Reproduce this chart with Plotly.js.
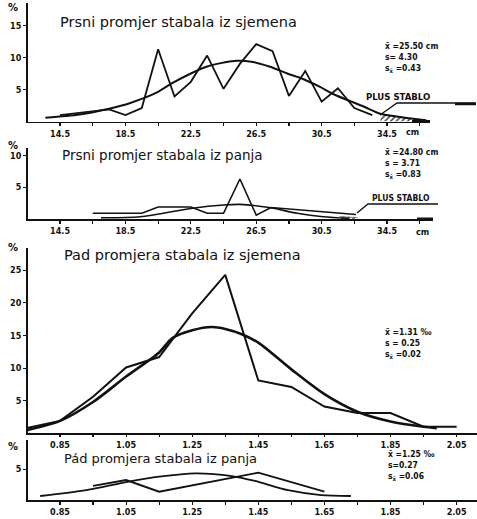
<!DOCTYPE html>
<html><head><meta charset="utf-8">
<script src="https://cdn.plot.ly/plotly-3.0.1.min.js"></script>
<style>html,body{margin:0;padding:0;background:#fff}</style>
</head><body><div id="chart" style="width:477px;height:519px"></div>
<script>
// ---- Panel 1: Prsni promjer stabala iz sjemena (cm, %)
const p1PolyX = [14.5, 17.5, 18.5, 19.5, 20.5, 21.5, 22.5, 23.5, 24.5, 25.5, 26.5, 27.5, 28.5, 29.5, 30.5, 31.5, 32.5, 33.6];
const p1PolyY = [1.0, 1.9, 1.0, 2.1, 11.3, 3.9, 6.2, 10.3, 5.1, 9.0, 12.1, 11.0, 4.0, 7.9, 3.1, 5.2, 2.1, 1.0];
const p1CurveX = [13.6, 15.7, 17.5, 18.8, 20.4, 21.3, 22.5, 23.5, 24.5, 25.3, 26.3, 27.3, 28.4, 29.4, 30.4, 31.2, 33.1, 34.1, 35.6, 36.9];
const p1CurveY = [0.6, 1.1, 2.0, 2.9, 4.5, 5.9, 7.5, 8.6, 9.2, 9.5, 9.3, 8.6, 7.5, 6.6, 5.4, 4.3, 2.3, 1.2, 0.6, 0.2];
const p1PlusX = [34.1, 35.6, 36.9];
const p1PlusY = [1.2, 0.6, 0.2];
const p1Stats = ["x̄ =25.50 cm", "s= 4.30", "s<sub>x̄</sub> =0.43"];

// ---- Panel 2: Prsni promjer stabala iz panja (cm, %)
const p2PolyX = [16.5, 19.5, 20.5, 22.5, 23.5, 24.5, 25.5, 26.5, 27.4, 32.6];
const p2PolyY = [0.9, 0.9, 1.9, 1.9, 0.9, 0.9, 6.3, 0.6, 1.8, 0.7];
const p2CurveX = [17.0, 19.4, 22.6, 24.5, 25.5, 27.3, 29.0, 30.6, 32.2];
const p2CurveY = [0.2, 0.35, 1.7, 2.2, 2.3, 1.8, 0.9, 0.35, 0.1];
const p2PlusX = [31.6, 32.1, 32.7];
const p2PlusY = [0.4, 0.3, 0.2];
const p2Stats = ["x̄ =24.80 cm", "s = 3.71", "s<sub>x̄</sub> =0.83"];

const cmTicks = [14.5, 18.5, 22.5, 26.5, 30.5, 34.5];
const cmTickText = ["14.5", "18.5", "22.5", "26.5", "30.5", "34.5"];

// ---- Panel 3: Pad promjera stabala iz sjemena
const p3PolyX = [0.75, 0.85, 0.95, 1.05, 1.15, 1.25, 1.35, 1.45, 1.55, 1.65, 1.75, 1.85, 1.95, 2.05];
const p3PolyY = [0.8, 1.9, 5.6, 10.1, 11.7, 18.4, 24.3, 8.1, 7.1, 4.1, 3.1, 3.1, 1.0, 1.0];
const p3CurveX = [0.75, 0.85, 0.95, 1.05, 1.15, 1.19, 1.25, 1.31, 1.35, 1.40, 1.45, 1.55, 1.65, 1.75, 1.85, 1.95, 1.99];
const p3CurveY = [0.5, 1.9, 4.8, 8.7, 12.4, 14.6, 15.8, 16.3, 16.0, 15.2, 13.9, 9.8, 6.0, 3.3, 1.8, 1.0, 0.8];
const p3Stats = ["x̄ =1.31 ‰", "s = 0.25", "s<sub>x̄</sub> =0.02"];

// ---- Panel 4: Pád promjera stabala iz panja
const p4PolyX = [0.95, 1.05, 1.15, 1.45, 1.65];
const p4PolyY = [2.3, 3.25, 1.35, 4.45, 1.35];
const p4CurveX = [0.79, 0.93, 1.05, 1.15, 1.26, 1.37, 1.44, 1.54, 1.64, 1.73];
const p4CurveY = [0.65, 1.6, 2.9, 3.8, 4.35, 3.9, 3.1, 1.6, 0.8, 0.65];
const p4Stats = ["x̄ =1.25 ‰", "s=0.27", "s<sub>x̄</sub> =0.06"];

const padTicks = [0.85, 1.05, 1.25, 1.45, 1.65, 1.85, 2.05];
const padTickText = ["0.85", "1.05", "1.25", "1.45", "1.65", "1.85", "2.05"];

const titles = ["Prsni promjer stabala iz sjemena", "Prsni promjer stabala iz panja",
                "Pad promjera stabala iz sjemena", "Pád promjera stabala iz panja"];

// ---------- layout helpers (pixel -> paper)
const W = 477, H = 519;
const PX = p => p / W;
const PY = p => 1 - p / H;

const ink = "#111";
const tickFont = {family: "DejaVu Sans Condensed, DejaVu Sans", size: 9, color: ink, weight: "bold"};

function line(x, y, xa, ya, w, smooth) {
  return {x: x, y: y, xaxis: xa, yaxis: ya, type: "scatter", mode: "lines",
          line: {color: ink, width: w, shape: smooth ? "spline" : "linear", smoothing: 0.8},
          hoverinfo: "skip", showlegend: false};
}
function hatch(x, y, xa, ya) {
  return {x: x, y: y, xaxis: xa, yaxis: ya, type: "scatter", mode: "lines",
          line: {color: ink, width: 0.5}, fill: "tozeroy", fillcolor: "rgba(0,0,0,0)",
          fillpattern: {shape: "/", size: 4, solidity: 0.35, fgcolor: "#333", bgcolor: "#fff"},
          hoverinfo: "skip", showlegend: false};
}

const data = [
  hatch(p1PlusX, p1PlusY, "x", "y"),
  line(p1CurveX, p1CurveY, "x", "y", 2, true),
  line(p1PolyX, p1PolyY, "x", "y", 1.8, false),
  hatch(p2PlusX, p2PlusY, "x2", "y2"),
  line(p2CurveX, p2CurveY, "x2", "y2", 1.6, true),
  line(p2PolyX, p2PolyY, "x2", "y2", 1.6, false),
  line(p3CurveX, p3CurveY, "x3", "y3", 2.6, true),
  line(p3PolyX, p3PolyY, "x3", "y3", 2, false),
  line(p4CurveX, p4CurveY, "x4", "y4", 1.8, true),
  line(p4PolyX, p4PolyY, "x4", "y4", 1.8, false)
];

function xAxis(dom, range, tv, tt, anchor, m0, md, tl) {
  return {domain: [PX(dom[0]), PX(dom[1])], range: range, anchor: anchor,
    tickmode: "array", tickvals: tv, ticktext: tt, ticks: "outside", ticklen: tl || 3, tickwidth: 1.2,
    tickcolor: ink, tickfont: tickFont, showgrid: false, zeroline: false,
    showline: true, linecolor: ink, linewidth: 1.6, automargin: false,
    minor: {tickmode: "linear", tick0: m0, dtick: md, ticks: "outside", ticklen: tl || 3, tickcolor: ink, showgrid: false}};
}
function yAxis(bottomPx, topPx, pxPerUnit, tv, anchor) {
  return {domain: [PY(bottomPx), PY(topPx)], range: [0, (bottomPx - topPx) / pxPerUnit], anchor: anchor,
    tickmode: "array", tickvals: tv, ticks: "outside", ticklen: 3, tickwidth: 1.2, tickcolor: ink,
    tickfont: tickFont, showgrid: false, zeroline: false, showline: true, linecolor: ink,
    linewidth: 1.8, automargin: false};
}

const ann = [];
function text(t, px, py, size, opts) {
  ann.push(Object.assign({text: t, xref: "paper", yref: "paper", x: PX(px), y: PY(py),
    xanchor: "left", yanchor: "middle", showarrow: false,
    font: {family: "DejaVu Sans", size: size, color: ink}}, opts || {}));
}
text(titles[0], 58, 22, 14.5);
text(titles[1], 60, 155, 13.5);
text(titles[2], 62, 255, 14.5);
text(titles[3], 62, 458, 13);
const statFont = {family: "DejaVu Sans Condensed, DejaVu Sans", size: 8.5, color: ink, weight: "bold"};
text(p1Stats.join("<br>"), 383, 57, 8.5, {font: statFont, align: "left"});
text(p2Stats.join("<br>"), 383, 163, 8.5, {font: statFont, align: "left"});
text(p3Stats.join("<br>"), 383, 343, 8.5, {font: statFont, align: "left"});
text(p4Stats.join("<br>"), 386, 465, 8.5, {font: statFont, align: "left"});
["%", "%", "%", "%"].forEach((t, i) => text(t, 6, [7, 145, 247, 446][i], 10, {font: {family: "DejaVu Sans", size: 10, color: ink, weight: "bold"}}));
text("cm", 404, 132, 9, {font: tickFont});
text("cm", 414, 232, 9, {font: tickFont});
text("PLUS STABLO", 364, 96, 9, {font: Object.assign({}, tickFont, {size: 9.5})});
text("PLUS STABLO", 370, 198, 8.5, {font: Object.assign({}, tickFont, {size: 8.5})});

const shapes = [
  {type: "path", xref: "paper", yref: "paper", path: `M ${PX(380)} ${PY(115)} L ${PX(397)} ${PY(103)} L ${PX(476)} ${PY(103)}`, line: {color: ink, width: 1.3}},
  {type: "line", xref: "paper", yref: "paper", x0: PX(455), x1: PX(476), y0: PY(104), y1: PY(104), line: {color: ink, width: 2.5}},
  {type: "line", xref: "paper", yref: "paper", x0: PX(412), x1: PX(430), y0: PY(121.5), y1: PY(121.5), line: {color: ink, width: 3}},
  {type: "path", xref: "paper", yref: "paper", path: `M ${PX(357)} ${PY(213)} L ${PX(368)} ${PY(204)} L ${PX(438)} ${PY(204)}`, line: {color: ink, width: 1.3}},
  {type: "line", xref: "paper", yref: "paper", x0: PX(417), x1: PX(433), y0: PY(219), y1: PY(219), line: {color: ink, width: 3}}
];

const layout = {
  width: W, height: H, margin: {l: 0, r: 0, t: 0, b: 0},
  paper_bgcolor: "#fff", plot_bgcolor: "rgba(0,0,0,0)", showlegend: false,
  xaxis: xAxis([28, 430], [12.54, 37.13], cmTicks, cmTickText, "y", 12.5, 2),
  yaxis: yAxis(121.5, 3, 6.4, [5, 10, 15], "x"),
  xaxis2: xAxis([28, 433], [12.54, 37.31], cmTicks, cmTickText, "y2", 12.5, 2),
  yaxis2: yAxis(219, 148, 6.35, [5, 10], "x2"),
  xaxis3: xAxis([28, 477], [0.7532, 2.1117], padTicks, padTickText, "y3", 0.75, 0.1, 2),
  yaxis3: yAxis(433.3, 248, 6.52, [5, 10, 15, 20, 25], "x3"),
  xaxis4: xAxis([28, 477], [0.7532, 2.1117], padTicks, padTickText, "y4", 0.75, 0.1),
  yaxis4: yAxis(500, 440, 6.14, [5], "x4"),
  annotations: ann,
  shapes: shapes
};

Plotly.newPlot("chart", data, layout, {staticPlot: true, displayModeBar: false});
</script>
</body></html>
